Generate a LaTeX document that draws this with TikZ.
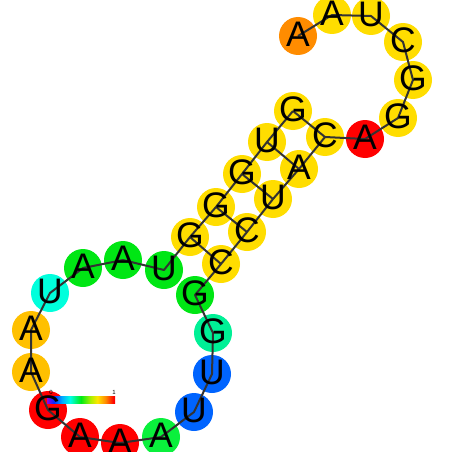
\documentclass[tikz,border=0pt]{standalone}
\usepackage{fontspec}
\setmainfont{Liberation Sans}
\definecolor{cY}{RGB}{255,221,0}
\definecolor{cO}{RGB}{255,140,0}
\definecolor{cLO}{RGB}{255,192,0}
\definecolor{cR}{RGB}{255,0,0}
\definecolor{cG}{RGB}{0,230,20}
\definecolor{cGb}{RGB}{10,240,60}
\definecolor{cC}{RGB}{0,255,220}
\definecolor{cM}{RGB}{0,240,150}
\definecolor{cB}{RGB}{0,100,255}
\definecolor{lineC}{RGB}{51,51,51}
\definecolor{barV}{RGB}{150,0,230}
\definecolor{barB}{RGB}{0,40,255}
\definecolor{barL}{RGB}{0,170,255}
\definecolor{barC}{RGB}{0,255,230}
\definecolor{barG}{RGB}{0,235,20}
\definecolor{barYG}{RGB}{170,240,0}
\definecolor{barY}{RGB}{255,230,0}
\definecolor{barO}{RGB}{255,140,0}
\definecolor{barR}{RGB}{255,0,0}
\pgfdeclarehorizontalshading{rainbowbar}{100bp}{color(0bp)=(barV); color(25bp)=(barV); color(30bp)=(barB); color(36bp)=(barL); color(42bp)=(barC); color(50bp)=(barG); color(57bp)=(barYG); color(62bp)=(barY); color(68bp)=(barO); color(74bp)=(barR); color(100bp)=(barR)}
\tikzset{
  base/.style={circle, minimum size=38pt, inner sep=0pt, draw=none},
  letter/.style={inner sep=0pt, font=\fontsize{35.5}{35.5}\selectfont, yshift=1.5pt},
  bb/.style={draw=lineC, line width=2pt, line join=round},
  pairline/.style={draw=lineC, line width=2pt}
}
\begin{document}
\begin{tikzpicture}[x=1pt,y=-1pt]
\useasboundingbox (0,0) rectangle (452,452);
\foreach \i/\x/\y/\col in {
  1/298/36/cO, 2/332/15/cY, 3/371/16/cY, 4/403/42/cY, 5/413/80/cY,
  6/398/118/cY, 7/365/139/cR, 8/325/137/cY, 9/299/169/cY, 10/273/199/cY,
  11/247/232/cY, 12/221/264/cY, 13/195/295/cG, 14/213/333/cM, 15/212/374/cB,
  16/194/412/cB, 17/161/437/cGb, 18/120/443/cR, 19/80/437/cR, 20/48/410/cR,
  21/31/372/cLO, 22/31/330/cLO, 23/50/293/cC, 24/83/268/cG, 25/123/260/cG,
  26/164/270/cG, 27/190/237/cY, 28/216/207/cY, 29/242/174/cY, 30/267/142/cY,
  31/293/111/cY}
  \node[base, fill=\col] (n\i) at (\x,\y) {};
% colour scale
\shade[shading=rainbowbar] (47,396) rectangle (115,403);
\node[inner sep=0pt, font=\fontsize{6}{6}\selectfont] (lab0) at (51,392) {0};
\node[inner sep=0pt, font=\fontsize{6}{6}\selectfont] (lab1) at (114,392) {1};
% backbone
\draw[bb] (n1.center) -- (n2.center) -- (n3.center) -- (n4.center) -- (n5.center)
  -- (n6.center) -- (n7.center) -- (n8.center) -- (n9.center) -- (n10.center)
  -- (n11.center) -- (n12.center) -- (n13.center) -- (n14.center) -- (n15.center)
  -- (n16.center) -- (n17.center) -- (n18.center) -- (n19.center) -- (n20.center)
  -- (n21.center) -- (n22.center) -- (n23.center) -- (n24.center) -- (n25.center)
  -- (n26.center) -- (n27.center) -- (n28.center) -- (n29.center) -- (n30.center)
  -- (n31.center);
% base pairs
\draw[pairline] (n8.center) -- (n31.center);
\draw[pairline] (n9.center) -- (n30.center);
\draw[pairline] (n10.center) -- (n29.center);
\draw[pairline] (n11.center) -- (n28.center);
\draw[pairline] (n12.center) -- (n27.center);
% letters
\foreach \i/\c in {1/A,2/A,3/U,4/C,5/G,6/G,7/A,8/C,9/A,10/U,11/C,12/C,13/G,14/G,15/U,
  16/U,17/A,18/A,19/A,20/G,21/A,22/A,23/U,24/A,25/A,26/U,27/G,28/G,29/G,30/U,31/G}
  \node[letter] (t\i) at (n\i) {\c};
\end{tikzpicture}
\end{document}
